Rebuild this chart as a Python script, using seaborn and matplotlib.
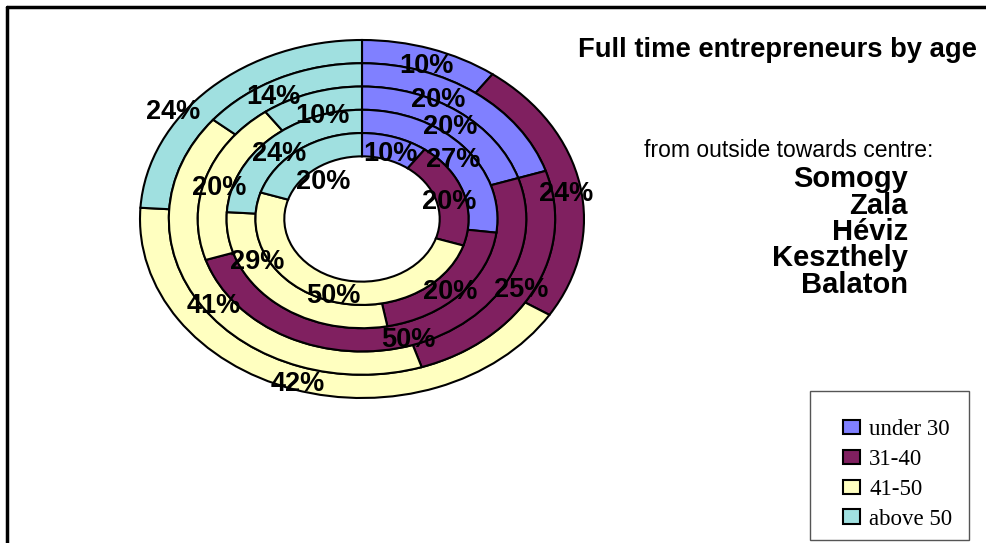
import numpy as np
import pandas as pd
import seaborn as sns
import matplotlib
matplotlib.use("Agg")
import matplotlib.pyplot as plt
from matplotlib.lines import Line2D
from matplotlib.patches import Patch, Rectangle

# Share of full-time entrepreneurs per age group, one ring per area
age_groups = ["under 30", "31-40", "41-50", "above 50"]
areas = ["Somogy", "Zala", "Héviz", "Keszthely", "Balaton"]  # outside -> centre
somogy = [10, 24, 42, 24]
zala = [20, 25, 41, 14]
heviz = [20, 50, 20, 10]
keszthely = [27, 20, 29, 24]
balaton = [10, 20, 50, 20]

df = pd.DataFrame([somogy, zala, heviz, keszthely, balaton],
                  index=areas, columns=age_groups)

sns.set_theme(style="white")
plt.rcParams["font.family"] = ["Liberation Sans", "DejaVu Sans"]
plt.rcParams["text.color"] = "black"

colors = ["#8080FF", "#802060", "#FFFFC0", "#A0E0E0"]

# extra label shifts (pixels: right, down) so crowded labels stay readable
label_shift = {
    ("Somogy", "above 50"): (-47, 9),
    ("Zala", "under 30"): (-29, -8),
    ("Zala", "above 50"): (-13, 2),
    ("Héviz", "above 50"): (7, 6),
    ("Keszthely", "41-50"): (-25, -36),
    ("Balaton", "above 50"): (15, 17),
}

W, H = 987, 543
fig = plt.figure(figsize=(W / 100, H / 100), dpi=100)
px = 72 / 100  # points per pixel

# Donut axes: centre (362, 219) px, outer semi-axes 222 x 179 px
cx, cy, ax_w, ax_h = 362, 219, 222, 179
ax = fig.add_axes([(cx - ax_w) / W, (H - cy - ax_h) / H, 2 * ax_w / W, 2 * ax_h / H])

outer = 1.0
hole = 0.35
ring_w = (outer - hole) / len(areas)

for i, area in enumerate(areas):
    r = outer - i * ring_w
    vals = df.loc[area].values
    ax.pie(vals, radius=r, colors=colors, startangle=90, counterclock=False,
           wedgeprops=dict(width=ring_w, edgecolor="black", linewidth=1.5))
    # percentage labels at the middle of each ring segment
    mid_r = r - ring_w / 2
    cum = np.cumsum(vals) - np.asarray(vals) / 2
    for grp, v, c in zip(age_groups, vals, cum):
        ang = np.deg2rad(c / vals.sum() * 360)
        dx, dy = label_shift.get((area, grp), (0, 0))
        dy += 6
        ax.annotate(f"{v}%", xy=(mid_r * np.sin(ang), mid_r * np.cos(ang)),
                    xytext=(dx * px, -dy * px), textcoords="offset points",
                    ha="center", va="center", fontsize=19.5,
                    fontweight="bold", color="black")

ax.set_aspect("auto")
ax.set_xlim(-1, 1)
ax.set_ylim(-1, 1)
ax.axis("off")

# Title and ring key
fig.text(777 / W, 1 - 57 / H, "Full time entrepreneurs by age", ha="center",
         va="baseline", fontsize=19.7, fontweight="bold")
fig.text(789 / W, 1 - 157 / H, "from outside towards centre:", ha="center",
         va="baseline", fontsize=16.5)
base = 187
for k, area in enumerate(areas):
    fig.text(908 / W, 1 - (base + k * 26.5) / H, area, ha="right",
             va="baseline", fontsize=21, fontweight="bold")

# Legend
handles = [Patch(facecolor=c, edgecolor="black", linewidth=1.5) for c in colors]
leg = fig.legend(handles, age_groups, loc="upper left",
                 bbox_to_anchor=(843 / W, 1 - 419 / H),
                 frameon=False,
                 prop=dict(family="Liberation Serif", size=16.5),
                 handlelength=0.75, handleheight=0.6, handletextpad=0.4,
                 labelspacing=0.39, borderpad=0, borderaxespad=0)
fig.add_artist(Rectangle((810 / W, 1 - 540 / H), 159 / W, 149 / H,
                         transform=fig.transFigure, fill=False,
                         edgecolor="#555555", linewidth=1.0))

# Outer frame (top and left edges)
fig.add_artist(Line2D([7 / W, 7 / W], [0, 1 - 7 / H], color="black", lw=2.5,
                      transform=fig.transFigure))
fig.add_artist(Line2D([7 / W, 1], [1 - 7 / H, 1 - 7 / H], color="black", lw=2.5,
                      transform=fig.transFigure))

fig.savefig("out.png", dpi=100, facecolor="white")
